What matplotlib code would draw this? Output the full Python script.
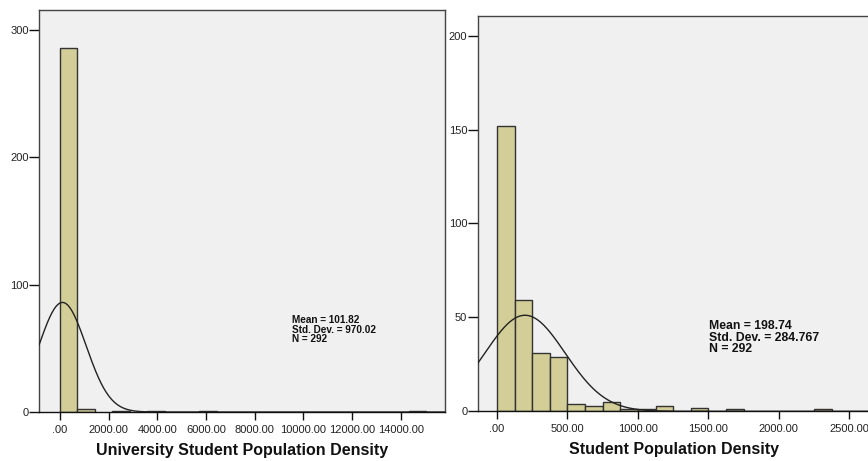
import numpy as np
import matplotlib
matplotlib.use("Agg")
import matplotlib.pyplot as plt

plt.rcParams['font.family'] = ['Liberation Sans', 'DejaVu Sans']

# University student population density histogram
uni_bin_width = 716.0
uni_bin_index = [0, 1, 3, 5, 8, 20]
uni_counts = [286, 2, 1, 1, 1, 1]
uni_mean, uni_std, uni_n = 101.82, 970.02, 292
uni_xticks = [0, 2000, 4000, 6000, 8000, 10000, 12000, 14000]
uni_xticklabels = [".00", "2000.00", "4000.00", "6000.00", "8000.00",
                   "10000.00", "12000.00", "14000.00"]
uni_yticks = [0, 100, 200, 300]

# Student population density histogram
stu_bin_width = 125.0
stu_bin_index = [0, 1, 2, 3, 4, 5, 6, 7, 8, 9, 11, 13, 18]
stu_counts = [152, 59, 31, 29, 4, 3, 5, 1, 1, 3, 2, 1, 1]
stu_mean, stu_std, stu_n = 198.74, 284.767, 292
stu_xticks = [0, 500, 1000, 1500, 2000, 2500]
stu_xticklabels = [".00", "500.00", "1000.00", "1500.00", "2000.00", "2500.00"]
stu_yticks = [0, 50, 100, 150, 200]

W, H = 868, 461
fig = plt.figure(figsize=(W / 100, H / 100), dpi=100)
fig.patch.set_facecolor("white")

BAR = "#d3ce97"
EDGE = "#333333"
FACE = "#f0f0f0"


def px_axes(x0, y0, x1, y1):
    return fig.add_axes([x0 / W, 1 - y1 / H, (x1 - x0) / W, (y1 - y0) / H])


def draw_panel(ax, width, idx, counts, mean, std, n, xlim, ylim,
               xticks, xticklabels, yticks, title, stats_xy, stats_size):
    ax.set_facecolor(FACE)
    lefts = np.array(idx) * width
    ax.bar(lefts, counts, width=width, align="edge", color=BAR,
           edgecolor=EDGE, linewidth=1.0, zorder=2)
    xs = np.linspace(xlim[0], xlim[1], 1200)
    ys = n * width / (std * np.sqrt(2 * np.pi)) * np.exp(-0.5 * ((xs - mean) / std) ** 2)
    ax.plot(xs, ys, color="#222222", linewidth=1.0, zorder=3)
    ax.set_xlim(*xlim)
    ax.set_ylim(*ylim)
    ax.set_xticks(xticks)
    ax.set_xticklabels(xticklabels)
    ax.set_yticks(yticks)
    ax.set_yticklabels([str(v) for v in yticks])
    ax.tick_params(axis="x", length=6, width=1, pad=3, labelsize=8,
                   colors="#111111", labelcolor="#222222")
    ax.tick_params(axis="y", length=7, width=1, pad=0.5, labelsize=8,
                   colors="#111111", labelcolor="#222222")
    for s in ax.spines.values():
        s.set_color("#444444")
        s.set_linewidth(1.0)
    ax.spines["bottom"].set_color("#111111")
    ax.set_xlabel(title, fontsize=11.5, fontweight="bold", color="#111111",
                  labelpad=6)
    ax.text(stats_xy[0], stats_xy[1],
            "Mean = %s\nStd. Dev. = %s\nN = %d" % (f"{mean:.2f}",
                                                   f"{std:g}", n),
            transform=ax.transData, fontsize=stats_size, fontweight="bold",
            color="#111111", va="top", ha="left", linespacing=0.95, zorder=4)


ax1 = px_axes(39, 10, 445, 412)
draw_panel(ax1, uni_bin_width, uni_bin_index, uni_counts, uni_mean, uni_std,
           uni_n, (-862, 15811), (0, 315.5), uni_xticks, uni_xticklabels,
           uni_yticks, "University Student Population Density",
           (9520, 76), 7.2)

ax2 = px_axes(477.7, 15.7, 870, 411.3)
draw_panel(ax2, stu_bin_width, stu_bin_index, stu_counts, stu_mean, stu_std,
           stu_n, (-137, 2647), (0, 210.6), stu_xticks, stu_xticklabels,
           stu_yticks, "Student Population Density",
           (1505, 48.5), 8.8)

fig.savefig("out.png", dpi=100, facecolor="white")
